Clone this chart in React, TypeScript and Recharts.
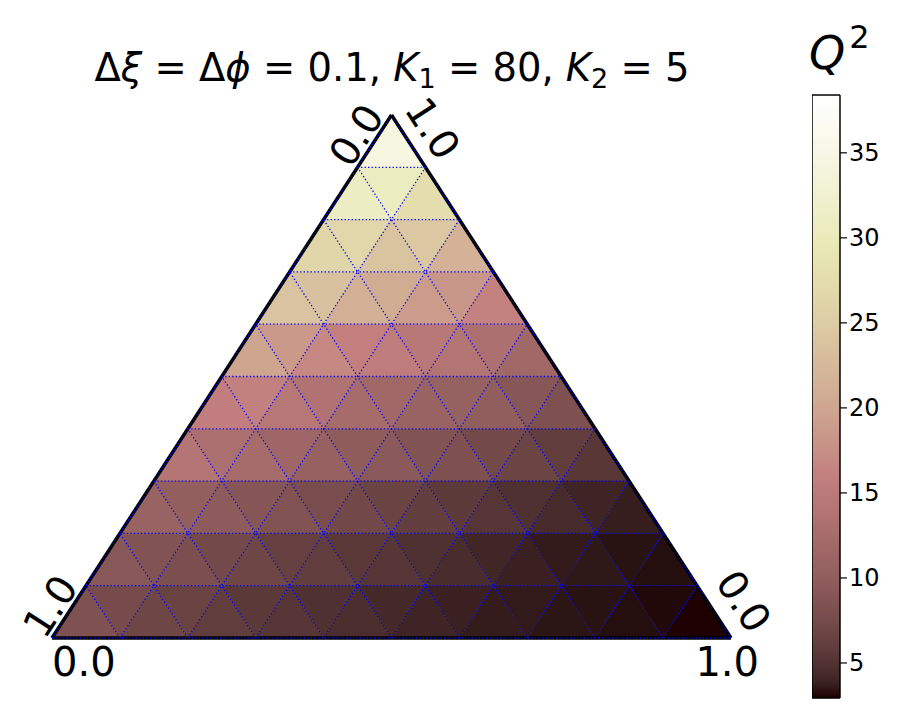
import React from 'react';
import { ComposedChart, Area, XAxis, YAxis, ReferenceLine } from 'recharts';

// Q^2 per triangular cell, top row first; in each row: up, down, up, down ... left to right
const row0 = [34.3];
const row1 = [31.0, 30.8, 27.7];
const row2 = [26.5, 26.6, 23.9, 24.4, 21.5];
const row3 = [23.8, 23.4, 21.2, 20.7, 18.8, 18.4, 16.3];
const row4 = [20.0, 18.6, 16.8, 16.0, 15.5, 14.7, 14.0, 13.2, 11.8];
const row5 = [15.9, 16.1, 14.6, 13.6, 12.4, 11.8, 10.9, 10.6, 10.1, 9.1, 8.2];
const row6 = [14.2, 13.1, 12.4, 11.5, 10.7, 9.9, 9.4, 8.6, 8.2, 7.3, 6.7, 6.0, 5.4];
const row7 = [10.9, 10.2, 9.7, 9.0, 8.5, 7.8, 7.2, 6.6, 6.1, 5.7, 5.2, 4.8, 4.4, 4.0, 3.7];
const row8 = [9.2, 8.6, 8.0, 7.3, 6.9, 6.3, 6.0, 5.5, 5.2, 4.8, 4.5, 4.1, 3.8, 3.5, 3.4, 3.2, 3.1];
const row9 = [8.3, 7.6, 6.9, 6.5, 6.0, 5.6, 5.2, 4.9, 4.6, 4.3, 4.0, 3.8, 3.6, 3.5, 3.3, 3.2, 3.1, 3.0, 2.94];
const rows = [row0, row1, row2, row3, row4, row5, row6, row7, row8, row9];

const gridFractions = [0.1, 0.2, 0.3, 0.4, 0.5, 0.6, 0.7, 0.8, 0.9];
const cbTicks = [5, 10, 15, 20, 25, 30, 35];
const qMin = 2.94;
const qMax = 38.4;

const FONT = '"DejaVu Sans", Verdana, sans-serif';

// matplotlib "pink": sqrt((2*gray + hot) / 3)
const clamp = (v: number) => Math.max(0, Math.min(1, v));
function pink(t: number) {
  t = clamp(t);
  const hr = Math.min(1, 0.0416 + (t * (1 - 0.0416)) / 0.365079);
  const hg = clamp((t - 0.365079) / (0.746032 - 0.365079));
  const hb = clamp((t - 0.746032) / (1 - 0.746032));
  const c = (h: number) => Math.round(255 * Math.sqrt((2 * t + h) / 3));
  return `rgb(${c(hr)},${c(hg)},${c(hb)})`;
}
const qColor = (q: number) => pink((q - qMin) / (qMax - qMin));

type Pt = { x: number; r: [number, number] };
const cells: { key: string; color: string; pts: Pt[] }[] = [];
rows.forEach((vals, r) => {
  const yt = 1 - r / 10;
  const yb = 1 - (r + 1) / 10;
  vals.forEach((q, k) => {
    const j = Math.floor(k / 2);
    let pts: Pt[];
    if (k % 2 === 0) {
      const xl = yb / 2 + j * 0.1;
      pts = [{ x: xl, r: [yb, yb] }, { x: xl + 0.05, r: [yb, yt] }, { x: xl + 0.1, r: [yb, yb] }];
    } else {
      const xl = yt / 2 + j * 0.1;
      pts = [{ x: xl, r: [yt, yt] }, { x: xl + 0.05, r: [yb, yt] }, { x: xl + 0.1, r: [yt, yt] }];
    }
    cells.push({ key: `c-${r}-${k}`, color: qColor(q), pts });
  });
});

const gridSegs: { x: number; y: number }[][] = [];
gridFractions.forEach((a) => {
  gridSegs.push([{ x: a / 2, y: a }, { x: 1 - a / 2, y: a }]);
  gridSegs.push([{ x: a, y: 0 }, { x: a + (1 - a) / 2, y: 1 - a }]);
  gridSegs.push([{ x: a, y: 0 }, { x: a / 2, y: a }]);
});
const edges = [
  [{ x: 0, y: 0 }, { x: 1, y: 0 }],
  [{ x: 0, y: 0 }, { x: 0.5, y: 1 }],
  [{ x: 1, y: 0 }, { x: 0.5, y: 1 }],
];

// colorbar body spans the full Q^2 range
const cbBar = [
  { x: 0, r: [qMin, qMax] },
  { x: 1, r: [qMin, qMax] },
];
const gradStops = Array.from({ length: 41 }, (_, i) => i / 40);

function CornerLabel({ x, y, angle, text }: { x: number; y: number; angle: number; text: string }) {
  return (
    <text x={x} y={y} dy="0.36em" textAnchor="middle" fontSize={40} fontFamily={FONT} fill="#000"
      transform={`rotate(${angle} ${x} ${y})`}>
      {text}
    </text>
  );
}

export default function App() {
  return (
    <div style={{ position: 'absolute', left: 0, top: 0, width: 915, height: 719, background: '#fff' }}>
      <svg width={0} height={0} style={{ position: 'absolute' }}>
        <defs>
          <linearGradient id="q2grad" x1="0" y1="1" x2="0" y2="0">
            {gradStops.map((t) => (
              <stop key={t} offset={t} stopColor={pink(t)} />
            ))}
          </linearGradient>
        </defs>
      </svg>

      <div style={{ position: 'absolute', left: 0, top: 0 }}>
        <ComposedChart width={915} height={719} margin={{ top: 115, right: 184, bottom: 81, left: 52 }}>
          <XAxis type="number" dataKey="x" domain={[0, 1]} hide allowDataOverflow />
          <YAxis type="number" domain={[0, 1]} hide allowDataOverflow />
          {cells.map((c) => (
            <Area
              key={c.key}
              data={c.pts}
              dataKey="r"
              type="linear"
              fill={c.color}
              fillOpacity={1}
              stroke={c.color}
              strokeWidth={0.6}
              dot={false}
              activeDot={false}
              isAnimationActive={false}
            />
          ))}
          {edges.map((s, i) => (
            <ReferenceLine key={`e${i}`} segment={s} stroke="#000" strokeWidth={3.5} ifOverflow="visible" />
          ))}
          {gridSegs.map((s, i) => (
            <ReferenceLine key={`g${i}`} segment={s} stroke="#0000ff" strokeWidth={1.3} strokeDasharray="1.3 2.2" ifOverflow="visible" />
          ))}
          {edges.map((s, i) => (
            <ReferenceLine key={`eb${i}`} segment={s} stroke="#0000ff" strokeWidth={1.3} strokeDasharray="1.3 2.2" ifOverflow="visible" />
          ))}
        </ComposedChart>
      </div>

      <div style={{ position: 'absolute', left: 812, top: 0 }}>
        <ComposedChart width={100} height={719} margin={{ top: 95, right: 12, bottom: 21, left: 0 }}>
          <XAxis type="number" dataKey="x" domain={[0, 1]} hide />
          <YAxis
            type="number"
            orientation="right"
            domain={[qMin, qMax]}
            ticks={cbTicks}
            width={60}
            axisLine={false}
            tickSize={7}
            tickLine={{ stroke: '#000', strokeWidth: 1.2 }}
            tick={{ fill: '#000', fontSize: 24, fontFamily: FONT }}
            allowDataOverflow
          />
          <Area
            data={cbBar}
            dataKey="r"
            type="linear"
            fill="url(#q2grad)"
            fillOpacity={1}
            stroke="none"
            dot={false}
            activeDot={false}
            isAnimationActive={false}
          />
          <ReferenceLine segment={[{ x: 0, y: qMin }, { x: 0, y: qMax }]} stroke="#000" strokeWidth={1.5} ifOverflow="visible" />
          <ReferenceLine segment={[{ x: 1, y: qMin }, { x: 1, y: qMax }]} stroke="#000" strokeWidth={1.5} ifOverflow="visible" />
          <ReferenceLine segment={[{ x: 0, y: qMin }, { x: 1, y: qMin }]} stroke="#000" strokeWidth={1.5} ifOverflow="visible" />
          <ReferenceLine segment={[{ x: 0, y: qMax }, { x: 1, y: qMax }]} stroke="#000" strokeWidth={1.5} ifOverflow="visible" />
        </ComposedChart>
      </div>

      <svg width={915} height={719} style={{ position: 'absolute', left: 0, top: 0, pointerEvents: 'none' }}>
        <text x={392} y={81} textAnchor="middle" fontSize={38.5} fontFamily={FONT} fill="#000">
          <tspan>Δ</tspan>
          <tspan fontStyle="italic">ξ</tspan>
          <tspan> = Δ</tspan>
          <tspan fontStyle="italic">ϕ</tspan>
          <tspan> = 0.1, </tspan>
          <tspan fontStyle="italic">K</tspan>
          <tspan fontSize={27} dy={7}>1</tspan>
          <tspan dy={-7}> = 80, </tspan>
          <tspan fontStyle="italic">K</tspan>
          <tspan fontSize={27} dy={7}>2</tspan>
          <tspan dy={-7}> = 5</tspan>
        </text>
        <text x={809} y={69} fontSize={46} fontFamily={FONT} fontStyle="italic" fill="#000">
          Q<tspan fontStyle="normal" fontSize={32} dy={-21} dx={4}>2</tspan>
        </text>
        <text x={52} y={676} fontSize={40} fontFamily={FONT} fill="#000">0.0</text>
        <text x={759} y={676} textAnchor="end" fontSize={40} fontFamily={FONT} fill="#000">1.0</text>
        <CornerLabel x={50} y={606} angle={-57} text="1.0" />
        <CornerLabel x={356} y={135} angle={-57} text="0.0" />
        <CornerLabel x={433} y={128} angle={57} text="1.0" />
        <CornerLabel x={744} y={601} angle={57} text="0.0" />
      </svg>
    </div>
  );
}
